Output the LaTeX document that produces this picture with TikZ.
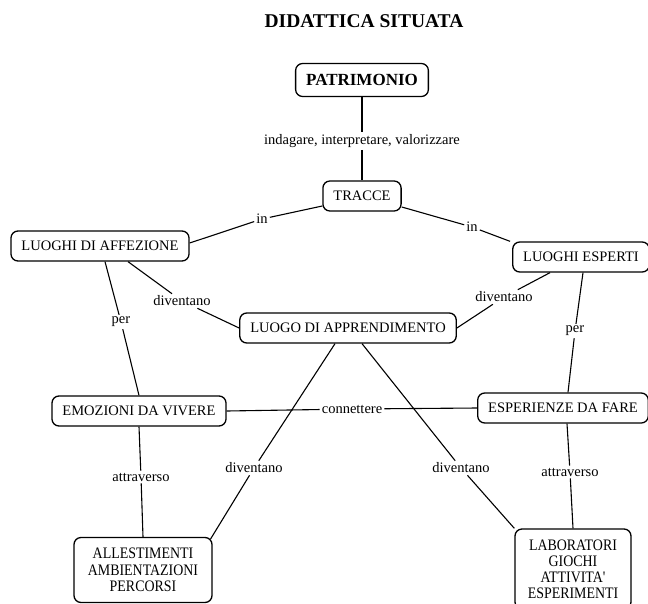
\documentclass[tikz,border=0pt]{standalone}
\usepackage{fontspec}
\setmainfont{Liberation Serif}
\newfontfamily\condfont{Liberation Serif}[FakeStretch=0.87]
\usetikzlibrary{calc}
\begin{document}
\begin{tikzpicture}[x=1pt,y=-1pt,
  concept/.style={draw=black, line width=1.3pt, rounded corners=7pt, inner xsep=10.5pt, inner ysep=2pt,
    minimum height=30pt, font=\fontsize{14.5}{17}\selectfont, align=center},
  multi/.style={concept, inner xsep=6pt},
  lbl/.style={inner sep=2pt, font=\fontsize{14.5}{17}\selectfont},
  conn/.style={line width=1.1pt}]
\useasboundingbox (0,0) rectangle (648,603);
\node (title) at (364,21) {\fontsize{19.5}{22}\selectfont\bfseries DIDATTICA SITUATA};
\node[concept, minimum height=33pt, font=\fontsize{17}{20}\selectfont\bfseries] (patr) at (362,80) {PATRIMONIO};
\node[concept] (tracce) at (362,196) {TRACCE};
\node[concept] (affez) at (100,246) {LUOGHI DI AFFEZIONE};
\node[concept] (esperti) at (581,257) {LUOGHI ESPERTI};
\node[concept] (luogo) at (348,328) {LUOGO DI APPRENDIMENTO};
\node[concept] (emoz) at (139,411) {EMOZIONI DA VIVERE};
\node[concept] (esp) at (563,408) {ESPERIENZE DA FARE};
\node[multi, minimum width=138pt, minimum height=65pt, font=\condfont\fontsize{16}{16.5}\selectfont] (allest) at (143,570) {ALLESTIMENTI\\AMBIENTAZIONI\\PERCORSI};
\node[multi, minimum width=116pt, minimum height=80pt, font=\condfont\fontsize{16}{16}\selectfont] (labor) at (573,569) {LABORATORI\\GIOCHI\\ATTIVITA'\\ESPERIMENTI};
% labels
\node[lbl] (lab1) at (362,141) {indagare, interpretare, valorizzare};
\node[lbl] (in1) at (262,219) {in};
\node[lbl] (in2) at (472,227) {in};
\node[lbl] (div1) at (182,301) {diventano};
\node[lbl] (per1) at (121,322) {per};
\node[lbl] (div2) at (504,297) {diventano};
\node[lbl] (per2) at (575,331) {per};
\node[lbl] (cn) at (352,409) {connettere};
\node[lbl] (div3) at (254,468) {diventano};
\node[lbl] (att1) at (141,477) {attraverso};
\node[lbl] (div4) at (461,468) {diventano};
\node[lbl] (att2) at (570,472) {attraverso};
% connectors
\draw[conn] (patr) -- (lab1);
\draw[conn] (lab1) -- (tracce);
\draw[conn] ($(tracce.west)+(0,10)$) -- (in1);
\draw[conn] (in1) -- ($(affez.east)+(0,-3)$);
\draw[conn] ($(tracce.east)+(0,11)$) -- (in2);
\draw[conn] (in2) -- ($(esperti.north west)+(-2,0)$);
\draw[conn] ($(affez.south)+(28,0)$) -- (div1);
\draw[conn] (div1) -- (luogo.west);
\draw[conn] ($(affez.south)+(5,0)$) -- (per1);
\draw[conn] (per1) -- (emoz.north);
\draw[conn] ($(esperti.south)+(-31,0)$) -- (div2);
\draw[conn] (div2) -- (luogo.east);
\draw[conn] ($(esperti.south)+(2,0)$) -- (per2);
\draw[conn] (per2) -- ($(esp.north)+(5,0)$);
\draw[conn] (emoz.east) -- (cn);
\draw[conn] (cn) -- (esp.west);
\draw[conn] ($(luogo.south)+(-13,0)$) -- (div3);
\draw[conn] (div3) -- ($(allest.north east)+(-2,2)$);
\draw[conn] ($(luogo.south)+(14,0)$) -- (div4);
\draw[conn] (div4) -- (labor.north west);
\draw[conn] (emoz.south) -- (att1);
\draw[conn] (att1) -- (allest.north);
\draw[conn] ($(esp.south)+(4,0)$) -- (att2);
\draw[conn] (att2) -- (labor.north);
\end{tikzpicture}
\end{document}
